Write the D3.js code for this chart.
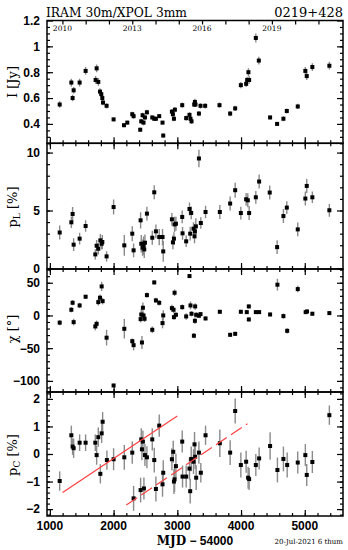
<!DOCTYPE html>
<html>
<head>
<meta charset="utf-8">
<script src="https://cdn.jsdelivr.net/npm/d3@7"></script>
<style>
  html, body { margin: 0; padding: 0; background: #fff; }
  .tick text { font-family: "Liberation Sans", Arial, sans-serif; font-weight: bold; font-size: 12px; fill: #000; }
  .domain { display: none; }
  .tick line { stroke: #000; stroke-width: 1.2; }
</style>
</head>
<body>
<div id="chart"></div>
<script>
// ---- data (MJD - 54000) ----
const mjdI = [1154,1337,1357,1373,1467,1561,1718,1734,1760,1787,1807,1823,1834,1890,2000,2163,2215,2293,2314,2418,2434,2455,2470,2492,2523,2607,2638,2664,2716,2768,2779,2915,2931,2947,2962,3077,3139,3191,3207,3223,3265,3276,3285,3339,3364,3437,3662,3829,3908,3997,4080,4096,4116,4127,4232,4279,4456,4566,4665,4718,4890,5009,5031,5119,5386];
const fluxI = [0.55,0.72,0.60,0.66,0.72,0.81,0.74,0.83,0.725,0.65,0.63,0.60,0.565,0.54,0.435,0.39,0.41,0.475,0.46,0.355,0.42,0.467,0.41,0.45,0.49,0.45,0.44,0.44,0.46,0.41,0.31,0.495,0.475,0.44,0.51,0.545,0.445,0.47,0.44,0.42,0.55,0.57,0.55,0.48,0.54,0.54,0.545,0.48,0.52,0.70,0.71,0.74,0.80,0.74,1.065,0.89,0.45,0.40,0.44,0.50,0.535,0.81,0.77,0.84,0.85];
const errI = [0.025,0.03,0.025,0.025,0.03,0.03,0.03,0.03,0.03,0.025,0.025,0.025,0.02,0.02,0.015,0.015,0.015,0.02,0.02,0.015,0.02,0.02,0.02,0.02,0.02,0.015,0.015,0.015,0.015,0.015,0.015,0.02,0.02,0.02,0.02,0.02,0.02,0.02,0.02,0.02,0.02,0.025,0.02,0.02,0.02,0.02,0.02,0.02,0.02,0.025,0.025,0.025,0.03,0.03,0.035,0.03,0.015,0.015,0.02,0.02,0.02,0.03,0.03,0.03,0.03];

const mjdPL = [1154,1337,1357,1373,1467,1561,1713,1734,1760,1792,1813,1823,1890,2000,2168,2293,2314,2424,2434,2455,2470,2481,2492,2523,2607,2638,2664,2716,2768,2779,2915,2931,2947,2957,2978,3077,3082,3139,3191,3202,3218,3254,3270,3276,3291,3339,3369,3443,3667,3829,3908,3997,4080,4106,4127,4232,4284,4450,4566,4665,4718,4890,5009,5031,5119,5386];
const pL = [3.1,3.98,4.7,2.05,2.57,3.66,1.21,1.96,1.7,2.42,2.13,2.28,1.04,5.3,1.99,3.0,1.56,4.15,2.13,1.79,1.96,1.64,2.22,4.73,2.65,6.57,3.2,2.71,2.71,1.47,4.24,2.25,2.57,3.8,3.86,4.44,3.03,2.34,5.13,3.0,4.79,3.43,2.77,3.2,3.63,9.49,3.92,4.87,4.87,5.6,6.75,4.78,5.97,5.88,4.78,6.14,7.5,6.55,1.84,4.52,5.25,3.37,6.03,7.12,6.14,5.02];
const errPL = [0.6,0.5,0.6,0.55,0.5,0.5,0.45,0.5,0.5,0.55,0.5,0.6,0.45,0.65,0.9,0.65,0.6,0.7,0.75,0.7,0.8,0.75,0.7,0.6,0.6,0.6,0.6,0.7,0.7,0.9,0.55,0.6,0.55,0.65,0.6,0.55,0.55,0.5,0.55,0.6,0.55,0.55,0.6,0.6,0.7,0.75,0.5,0.55,0.6,0.6,0.65,0.55,0.55,0.6,0.6,0.55,0.6,0.6,0.6,0.6,0.55,0.6,0.6,0.6,0.5,0.55];

const mjdChi = [1154,1337,1357,1373,1467,1561,1713,1734,1760,1787,1813,1828,1890,2000,2168,2293,2314,2424,2434,2445,2460,2470,2486,2523,2607,2638,2664,2716,2768,2779,2915,2941,2947,2957,2978,3077,3139,3191,3207,3223,3260,3276,3280,3296,3339,3364,3443,3667,3829,3908,3997,4090,4122,4122,4232,4284,4456,4571,4665,4724,4890,5014,5035,5119,5386];
const chi = [-11,8.7,19.4,-10.2,15.3,28.6,-16.8,-12.8,20.4,27.1,44.4,21.9,-34,-107,-20.4,-39.3,-45.4,-5.6,1.5,-41.3,11.8,0,-5.1,31.1,-21.9,50.5,23,19.4,-11.7,0,11.2,8.7,-2.6,34.7,1,12.7,-1.5,60.2,15.3,2.6,-31,-8.2,13.8,1,-0.5,2,-4.6,5.6,-29.6,-28.1,5.6,5.1,13.8,-6.1,5.1,5.1,1.5,47,-1,-23.5,40.3,5.1,6.1,2.6,3.6];
const errChi = [4,4,4,5,4,3,6,5,5,5,7,5,12,2,15,4,8,5,8,10,8,5,5,4,5,3,4,4,8,8,5,5,4,5,4,4,5,3,6,4,4,5,5,4,3,3,3,3,3,3,3,3,3,3,3,3,3,9,4,4,5,3,3,3,3];

const mjdPC = [1154,1337,1357,1373,1467,1561,1713,1734,1760,1792,1813,1828,1895,2000,2168,2293,2314,2424,2434,2445,2460,2476,2492,2523,2607,2638,2664,2716,2768,2779,2915,2936,2947,2957,2978,3077,3082,3139,3191,3202,3218,3254,3270,3280,3296,3339,3369,3443,3667,3829,3908,3997,4080,4111,4127,4232,4284,4456,4571,4665,4724,4890,5009,5031,5119,5386];
const pC = [-0.98,0.68,0.27,0.21,0.41,0.41,0.41,-0.04,0.61,-0.72,0.75,1.17,-0.22,-0.19,-0.12,0.05,-1.61,-1.31,0.53,0.17,0.45,-1.25,-0.04,-0.12,0.53,-0.22,-1.27,1.03,-1.1,-0.68,-0.19,0.08,-1.0,-0.92,-0.44,0.45,-0.82,-0.82,-0.53,-1.35,-0.18,-0.28,0.35,-0.1,-0.86,0.05,-0.68,0.68,0.39,0.05,1.56,-0.4,-0.28,-0.86,-0.91,-0.4,-0.16,0.29,-0.58,-0.18,-0.4,-0.31,-0.04,-0.76,-0.29,1.41];
const errPC = [0.35,0.35,0.3,0.35,0.3,0.3,0.3,0.35,0.35,0.35,0.35,0.35,0.35,0.4,0.45,0.4,0.45,0.45,0.4,0.4,0.4,0.4,0.4,0.4,0.4,0.45,0.45,0.4,0.45,0.45,0.4,0.4,0.45,0.45,0.45,0.4,0.4,0.4,0.4,0.45,0.45,0.45,0.45,0.45,0.45,0.4,0.35,0.35,0.5,0.45,0.45,0.45,0.4,0.4,0.4,0.4,0.4,0.5,0.45,0.45,0.45,0.4,0.4,0.4,0.4,0.35];

// red trend lines in the pC panel
const fitSolidMjd = [1200, 3000];
const fitSolidPc = [-1.4, 1.38];
const fitDashMjd = [2200, 4100];
const fitDashPc = [-1.85, 1.1];

// top axis (calendar years)
const yearTicks = [2010,2011,2012,2013,2014,2015,2016,2017,2018,2019,2020,2021];
const yearLabels = [2010, 2013, 2016, 2019];

// ---- layout ----
const W = 348, H = 550;
const left = 47, right = 343;
const serif = "'DejaVu Serif', 'Liberation Serif', serif";

const svg = d3.select("#chart").append("svg")
    .attr("width", W).attr("height", H)
    .attr("viewBox", `0 0 ${W} ${H}`);

const x = d3.scaleLinear().domain([955, 5600]).range([left, right]);
const xMajor = d3.range(1000, 5600, 1000);
const xMinor = d3.range(1000, 5600, 200);

const fmt = d => String(+d.toFixed(2)).replace("-", "\u2212");

const panels = [
    {top: 20.5, bottom: 143.3, domain: [0.25, 1.2], major: [0.4, 0.6, 0.8, 1, 1.2], minorStep: 0.05,
     xs: mjdI, ys: fluxI, es: errI},
    {top: 143.3, bottom: 269, domain: [-0.05, 10.8], major: [0, 5, 10], minorStep: 1,
     xs: mjdPL, ys: pL, es: errPL},
    {top: 269, bottom: 392, domain: [-117, 71], major: [-100, -50, 0, 50], minorStep: 10,
     xs: mjdChi, ys: chi, es: errChi},
    {top: 392, bottom: 516, domain: [-2.25, 2.25], major: [-2, -1, 0, 1, 2], minorStep: 0.2,
     xs: mjdPC, ys: pC, es: errPC}
];

panels.forEach((p, k) => {
    const y = d3.scaleLinear().domain(p.domain).range([p.bottom, p.top]);
    p.y = y;
    const minor = d3.range(Math.ceil(p.domain[0] / p.minorStep) * p.minorStep, p.domain[1], p.minorStep)
        .map(v => +v.toFixed(3));

    const g = svg.append("g");

    // y axes, ticks inward
    g.append("g").attr("transform", `translate(${left},0)`)
        .call(d3.axisLeft(y).tickValues(minor).tickSize(-3).tickFormat(""));
    g.append("g").attr("transform", `translate(${left},0)`)
        .call(d3.axisLeft(y).tickValues(p.major).tickSizeInner(-6).tickPadding(7).tickFormat(fmt));
    g.append("g").attr("transform", `translate(${right},0)`)
        .call(d3.axisRight(y).tickValues(minor).tickSize(-3).tickFormat(""));
    g.append("g").attr("transform", `translate(${right},0)`)
        .call(d3.axisRight(y).tickValues(p.major).tickSize(-6).tickFormat(""));

    // x axes
    const bottomAxis = g.append("g").attr("transform", `translate(0,${p.bottom})`);
    bottomAxis.append("g").call(d3.axisBottom(x).tickValues(xMinor).tickSize(-3).tickFormat(""));
    bottomAxis.append("g").call(d3.axisBottom(x).tickValues(xMajor).tickSize(-6).tickFormat(""));
    if (k > 0) {
        const topAxis = g.append("g").attr("transform", `translate(0,${p.top})`);
        topAxis.append("g").call(d3.axisTop(x).tickValues(xMinor).tickSize(-3).tickFormat(""));
        topAxis.append("g").call(d3.axisTop(x).tickValues(xMajor).tickSize(-6).tickFormat(""));
    }

    g.selectAll(".tick line").attr("stroke-width", 1.2);

    // data: error bars + square markers
    const clipId = "clip" + k;
    svg.append("clipPath").attr("id", clipId).append("rect")
        .attr("x", left).attr("y", p.top).attr("width", right - left).attr("height", p.bottom - p.top);
    const dg = g.append("g").attr("clip-path", `url(#${clipId})`);
    const idx = d3.range(p.xs.length);
    dg.selectAll("line.err").data(idx).join("line")
        .attr("class", "err")
        .attr("x1", i => x(p.xs[i])).attr("x2", i => x(p.xs[i]))
        .attr("y1", i => y(p.ys[i] - p.es[i])).attr("y2", i => y(p.ys[i] + p.es[i]))
        .attr("stroke", "#8a8a8a").attr("stroke-width", 1.4);
    dg.selectAll("rect.pt").data(idx).join("rect")
        .attr("class", "pt")
        .attr("x", i => x(p.xs[i]) - 2).attr("y", i => y(p.ys[i]) - 2)
        .attr("width", 4).attr("height", 4).attr("fill", "#000");

    p.dg = dg;

    // frame
    g.append("rect").attr("x", left).attr("y", p.top)
        .attr("width", right - left).attr("height", p.bottom - p.top)
        .attr("fill", "none").attr("stroke", "#000").attr("stroke-width", 1.5);
});

// top axis of first panel: calendar years
const yearToMjd = yr => Date.UTC(yr, 0, 1) / 86400000 + 40587 - 54000;
const topG = svg.append("g").attr("transform", `translate(0,${panels[0].top})`);
topG.call(d3.axisTop(x).tickValues(yearTicks.map(yearToMjd)).tickSize(-4).tickFormat(""));
topG.selectAll(".tick line").attr("stroke-width", 1.2);
svg.append("g").selectAll("text").data(yearLabels).join("text")
    .attr("x", d => x(yearToMjd(d))).attr("y", 31)
    .attr("text-anchor", "middle")
    .style("font-family", serif).style("font-size", "7.5px")
    .text(d => d);

// x tick labels on bottom panel
const bottomP = panels[3];
svg.append("g").selectAll("text").data(xMajor).join("text")
    .attr("x", d => x(d)).attr("y", 530)
    .attr("text-anchor", "middle")
    .style("font-family", "'Liberation Sans', Arial, sans-serif")
    .style("font-weight", "bold").style("font-size", "12px")
    .text(d => d);

// red lines in pC panel
const pcLine = d3.line().x(d => x(d[0])).y(d => bottomP.y(d[1]));
bottomP.dg.append("path")
    .attr("d", pcLine(d3.zip(fitSolidMjd, fitSolidPc)))
    .attr("stroke", "#ff4040").attr("stroke-width", 1.2).attr("fill", "none");
bottomP.dg.append("path")
    .attr("d", pcLine(d3.zip(fitDashMjd, fitDashPc)))
    .attr("stroke", "#ff4040").attr("stroke-width", 1.2).attr("fill", "none")
    .attr("stroke-dasharray", "13,5");

// titles
svg.append("text").attr("x", left - 1).attr("y", 16.5)
    .style("font-family", serif).style("font-size", "13px")
    .attr("textLength", 141).attr("lengthAdjust", "spacingAndGlyphs")
    .text("IRAM 30m/XPOL 3mm");
svg.append("text").attr("x", right).attr("y", 16.5).attr("text-anchor", "end")
    .style("font-family", serif).style("font-size", "13px")
    .text("0219+428");

// y-axis titles
const yTitles = [
    {mid: 82, parts: [["I [Jy]", false]]},
    {mid: 207, parts: [["p", false], ["L", true], [" [%]", false]]},
    {mid: 329, parts: [["\u03c7 [\u00b0]", false]]},
    {mid: 455, parts: [["p", false], ["C", true], [" [%]", false]]}
];
yTitles.forEach(t => {
    const txt = svg.append("text")
        .attr("transform", `translate(17,${t.mid}) rotate(-90)`)
        .attr("text-anchor", "middle")
        .style("font-family", serif).style("font-size", "13px");
    let shifted = false;
    t.parts.forEach(([s, sub]) => {
        const ts = txt.append("tspan").text(s);
        if (sub) { ts.attr("dy", 3).style("font-size", "9px"); shifted = true; }
        else if (shifted) { ts.attr("dy", -3); shifted = false; }
    });
});

// x-axis title
const xt = svg.append("text").attr("x", 195).attr("y", 545).attr("text-anchor", "middle")
    .style("font-size", "12px");
xt.append("tspan").style("font-family", serif).style("font-weight", "bold").text("MJD");
xt.append("tspan").style("font-family", "'Liberation Sans', Arial, sans-serif").style("font-weight", "bold")
    .text(" \u2212 54000");

// date stamp
svg.append("text").attr("x", right).attr("y", 544).attr("text-anchor", "end")
    .style("font-family", serif).style("font-size", "7px")
    .text("20-Jul-2021 6 thum");
</script>
</body>
</html>
